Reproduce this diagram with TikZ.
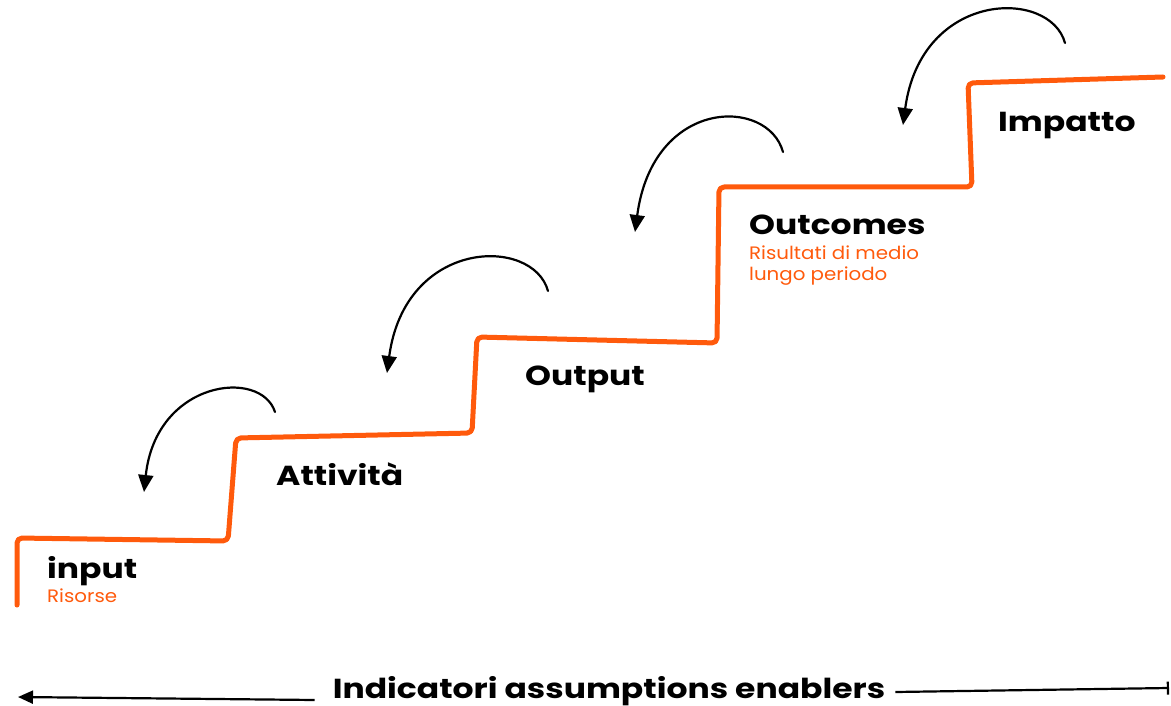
\documentclass[tikz,border=0pt]{standalone}
\usepackage{fontspec}
\setmainfont{Poppins}
\newfontfamily\stagefont{Poppins}[FakeStretch=1.2]
\newfontfamily\subfont{Poppins}[FakeStretch=1.1]
\usepackage{tikz}
\usetikzlibrary{arrows.meta, calc}
\definecolor{stairorange}{HTML}{FF5A0C}

\begin{document}
\begin{tikzpicture}[
    x=1pt, y=-1pt,
    stair/.style={
      draw=stairorange,
      line width=5pt,
      line cap=round,
      line join=round,
      rounded corners=5pt
    },
    backarrow/.style={
      -{Triangle[length=17pt,width=15pt]},
      line width=2.2pt,
      line cap=round
    },
    stage/.style={
      anchor=base west,
      inner sep=0pt,
      font=\stagefont\fontsize{27.5}{30}\selectfont\bfseries
    },
    sub/.style={
      anchor=base west,
      inner sep=0pt,
      text=stairorange,
      font=\subfont\fontsize{18}{20}\selectfont
    },
    baseline/.style={line width=2.2pt}
]
\useasboundingbox (0,0) rectangle (1171,706);

% staircase
\draw[stair] (17,605) -- (17,538) -- (228,541) -- (236,438) -- (472,433)
  -- (477,337) -- (717,343) -- (719,187) -- (972,187) -- (968,83) -- (1163,77);

% stage labels
\node[stage] (input) at (47,578) {input};
\node[sub] (risorse) at (47,602) {Risorse};
\node[stage] (attivita) at (276,485) {Attività};
\node[stage] (output) at (525,385) {Output};
\node[stage] (outcomes) at (749,235) {Outcomes};
\node[sub] (outsub1) at (749,259) {Risultati di medio};
\node[sub] (outsub2) at (749,280) {lungo periodo};
\node[stage] (impatto) at (998,132) {Impatto};

% curved arrows
\coordinate (a1s) at (275,412);
\coordinate (a1e) at (144,492);
\coordinate (a2s) at (548,291);
\coordinate (a2e) at (387,373);
\coordinate (a3s) at (783,152);
\coordinate (a3e) at (635,232);
\coordinate (a4s) at (1065,43);
\coordinate (a4e) at (903,125);

\draw[backarrow] (a1s) .. controls ($(a1s)+(-14,-44)$) and ($(a1e)+(12,-112)$) .. (a1e);
\draw[backarrow] (a2s) .. controls ($(a2s)+(-15,-55)$) and ($(a2e)+(18,-135)$) .. (a2e);
\draw[backarrow] (a3s) .. controls ($(a3s)+(-15,-55)$) and ($(a3e)+(18,-135)$) .. (a3e);
\draw[backarrow] (a4s) .. controls ($(a4s)+(-15,-55)$) and ($(a4e)+(18,-135)$) .. (a4e);

% bottom axis
\node[stage, anchor=base] (ind) at (609,698) {Indicatori assumptions enablers};
\coordinate (indl) at (18,697);
\coordinate (indr) at (1169,688);
\draw[baseline, -{Triangle[length=15pt,width=13pt]}] ([xshift=-18pt,yshift=-2pt]ind.base west) -- (indl);
\draw[baseline, -{Bar[width=13pt]}] ([xshift=10pt,yshift=6pt]ind.base east) -- (indr);
\end{tikzpicture}
\end{document}
